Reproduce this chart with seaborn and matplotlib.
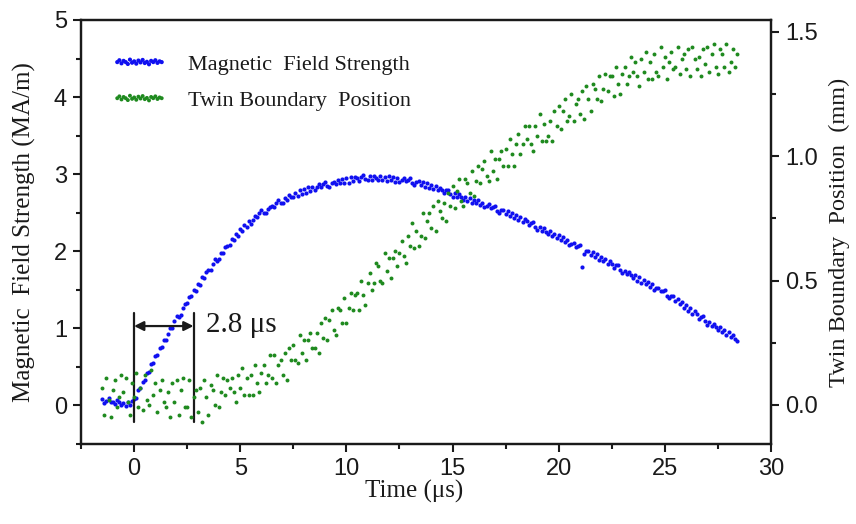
import numpy as np
import pandas as pd
import matplotlib
matplotlib.use("Agg")
import matplotlib.pyplot as plt
import seaborn as sns
from matplotlib.ticker import MultipleLocator, FixedLocator

# ---- data (time in microseconds) ----
time_us = [
    -1.5, -1.4, -1.3, -1.2, -1.1, -1.0, -0.9, -0.8, -0.7, -0.6,
    -0.5, -0.4, -0.3, -0.2, -0.1, 0.0, 0.1, 0.2, 0.3, 0.4,
    0.5, 0.6, 0.7, 0.8, 0.9, 1.0, 1.1, 1.2, 1.3, 1.4,
    1.5, 1.6, 1.7, 1.8, 1.9, 2.0, 2.1, 2.2, 2.3, 2.4,
    2.5, 2.6, 2.7, 2.8, 2.9, 3.0, 3.1, 3.2, 3.3, 3.4,
    3.5, 3.6, 3.7, 3.8, 3.9, 4.0, 4.1, 4.2, 4.3, 4.4,
    4.5, 4.6, 4.7, 4.8, 4.9, 5.0, 5.1, 5.2, 5.3, 5.4,
    5.5, 5.6, 5.7, 5.8, 5.9, 6.0, 6.1, 6.2, 6.3, 6.4,
    6.5, 6.6, 6.7, 6.8, 6.9, 7.0, 7.1, 7.2, 7.3, 7.4,
    7.5, 7.6, 7.7, 7.8, 7.9, 8.0, 8.1, 8.2, 8.3, 8.4,
    8.5, 8.6, 8.7, 8.8, 8.9, 9.0, 9.1, 9.2, 9.3, 9.4,
    9.5, 9.6, 9.7, 9.8, 9.9, 10.0, 10.1, 10.2, 10.3, 10.4,
    10.5, 10.6, 10.7, 10.8, 10.9, 11.0, 11.1, 11.2, 11.3, 11.4,
    11.5, 11.6, 11.7, 11.8, 11.9, 12.0, 12.1, 12.2, 12.3, 12.4,
    12.5, 12.6, 12.7, 12.8, 12.9, 13.0, 13.1, 13.2, 13.3, 13.4,
    13.5, 13.6, 13.7, 13.8, 13.9, 14.0, 14.1, 14.2, 14.3, 14.4,
    14.5, 14.6, 14.7, 14.8, 14.9, 15.0, 15.1, 15.2, 15.3, 15.4,
    15.5, 15.6, 15.7, 15.8, 15.9, 16.0, 16.1, 16.2, 16.3, 16.4,
    16.5, 16.6, 16.7, 16.8, 16.9, 17.0, 17.1, 17.2, 17.3, 17.4,
    17.5, 17.6, 17.7, 17.8, 17.9, 18.0, 18.1, 18.2, 18.3, 18.4,
    18.5, 18.6, 18.7, 18.8, 18.9, 19.0, 19.1, 19.2, 19.3, 19.4,
    19.5, 19.6, 19.7, 19.8, 19.9, 20.0, 20.1, 20.2, 20.3, 20.4,
    20.5, 20.6, 20.7, 20.8, 20.9, 21.0, 21.1, 21.2, 21.3, 21.4,
    21.5, 21.6, 21.7, 21.8, 21.9, 22.0, 22.1, 22.2, 22.3, 22.4,
    22.5, 22.6, 22.7, 22.8, 22.9, 23.0, 23.1, 23.2, 23.3, 23.4,
    23.5, 23.6, 23.7, 23.8, 23.9, 24.0, 24.1, 24.2, 24.3, 24.4,
    24.5, 24.6, 24.7, 24.8, 24.9, 25.0, 25.1, 25.2, 25.3, 25.4,
    25.5, 25.6, 25.7, 25.8, 25.9, 26.0, 26.1, 26.2, 26.3, 26.4,
    26.5, 26.6, 26.7, 26.8, 26.9, 27.0, 27.1, 27.2, 27.3, 27.4,
    27.5, 27.6, 27.7, 27.8, 27.9, 28.0, 28.1, 28.2, 28.3, 28.4,
]

# magnetic field strength (MA/m), left axis
field_MA_per_m = [
    0.08, 0.03, 0.06, 0.10, 0.04, 0.05, 0.02, 0.07, 0.04, 0.01,
    0.03, -0.01, 0.04, 0.01, 0.06, 0.09, 0.10, 0.20, 0.22, 0.31,
    0.33, 0.42, 0.44, 0.54, 0.55, 0.64, 0.66, 0.75, 0.76, 0.85,
    0.85, 0.93, 1.01, 1.01, 1.09, 1.16, 1.15, 1.17, 1.27, 1.32,
    1.33, 1.41, 1.42, 1.50, 1.49, 1.57, 1.56, 1.66, 1.65, 1.73,
    1.76, 1.76, 1.84, 1.90, 1.88, 1.90, 1.98, 1.98, 2.06, 2.07,
    2.08, 2.16, 2.14, 2.23, 2.20, 2.29, 2.26, 2.34, 2.31, 2.39,
    2.36, 2.41, 2.46, 2.44, 2.49, 2.53, 2.49, 2.49, 2.55, 2.58,
    2.59, 2.57, 2.63, 2.67, 2.63, 2.63, 2.69, 2.66, 2.73, 2.71,
    2.70, 2.76, 2.72, 2.79, 2.74, 2.81, 2.76, 2.83, 2.78, 2.84,
    2.79, 2.83, 2.87, 2.83, 2.87, 2.90, 2.85, 2.83, 2.89, 2.90,
    2.87, 2.93, 2.88, 2.94, 2.89, 2.95, 2.89, 2.96, 2.91, 2.96,
    2.95, 2.91, 2.96, 2.99, 2.94, 2.92, 2.97, 2.93, 2.98, 2.95,
    2.93, 2.97, 2.92, 2.96, 2.91, 2.97, 2.92, 2.96, 2.90, 2.95,
    2.90, 2.93, 2.95, 2.91, 2.93, 2.95, 2.88, 2.86, 2.90, 2.91,
    2.86, 2.90, 2.84, 2.88, 2.82, 2.86, 2.81, 2.85, 2.79, 2.82,
    2.80, 2.75, 2.79, 2.80, 2.74, 2.71, 2.75, 2.70, 2.74, 2.70,
    2.67, 2.71, 2.65, 2.69, 2.63, 2.67, 2.62, 2.66, 2.60, 2.63,
    2.57, 2.59, 2.61, 2.56, 2.58, 2.59, 2.52, 2.49, 2.53, 2.53,
    2.48, 2.52, 2.46, 2.49, 2.43, 2.47, 2.41, 2.45, 2.38, 2.42,
    2.39, 2.34, 2.37, 2.38, 2.31, 2.28, 2.32, 2.26, 2.30, 2.25,
    2.22, 2.26, 2.20, 2.23, 2.17, 2.21, 2.15, 2.18, 2.12, 2.15,
    2.08, 2.10, 2.11, 2.06, 2.07, 2.08, 1.80, 1.97, 2.01, 2.00,
    1.95, 1.99, 1.92, 1.96, 1.89, 1.93, 1.87, 1.90, 1.84, 1.87,
    1.84, 1.78, 1.82, 1.82, 1.76, 1.72, 1.75, 1.70, 1.73, 1.69,
    1.65, 1.69, 1.62, 1.66, 1.59, 1.63, 1.57, 1.60, 1.54, 1.57,
    1.50, 1.52, 1.53, 1.48, 1.49, 1.50, 1.42, 1.39, 1.42, 1.42,
    1.35, 1.38, 1.31, 1.34, 1.27, 1.30, 1.23, 1.27, 1.19, 1.22,
    1.18, 1.12, 1.15, 1.16, 1.09, 1.05, 1.08, 1.03, 1.06, 1.02,
    0.98, 1.02, 0.95, 0.98, 0.92, 0.95, 0.89, 0.92, 0.86, 0.84,
]

# twin boundary position (mm), right axis
twin_position_mm = [
    0.07, -0.04, 0.11, 0.02, -0.05, 0.06, 0.10, -0.01, 0.03, 0.12,
    0.05, 0.11, 0.01, -0.04, 0.09, 0.03, 0.13, -0.01, 0.07, -0.02,
    0.12, 0.02, 0.00, 0.14, 0.04, 0.09, -0.03, 0.06, 0.10, 0.01,
    -0.01, 0.05, -0.05, 0.09, 0.01, 0.10, -0.04, 0.06, 0.11, -0.01,
    -0.01, 0.10, -0.05, 0.03, 0.06, -0.03, 0.07, -0.07, 0.10, 0.03,
    -0.04, 0.08, 0.06, 0.00, 0.12, -0.01, 0.05, 0.11, 0.04, 0.10,
    0.07, 0.11, 0.05, 0.01, 0.12, 0.07, 0.15, 0.04, 0.11, 0.04,
    0.12, 0.04, 0.16, 0.09, 0.05, 0.13, 0.16, 0.09, 0.12, 0.20,
    0.11, 0.20, 0.09, 0.16, 0.18, 0.12, 0.21, 0.10, 0.23, 0.18,
    0.24, 0.18, 0.17, 0.28, 0.21, 0.26, 0.18, 0.26, 0.29, 0.23,
    0.23, 0.29, 0.21, 0.33, 0.27, 0.35, 0.26, 0.34, 0.38, 0.30,
    0.28, 0.39, 0.38, 0.33, 0.43, 0.33, 0.39, 0.45, 0.38, 0.44,
    0.45, 0.38, 0.50, 0.44, 0.40, 0.49, 0.53, 0.46, 0.49, 0.57,
    0.56, 0.50, 0.49, 0.61, 0.54, 0.59, 0.51, 0.59, 0.62, 0.56,
    0.61, 0.66, 0.60, 0.57, 0.68, 0.64, 0.73, 0.63, 0.70, 0.64,
    0.68, 0.77, 0.67, 0.74, 0.77, 0.71, 0.80, 0.70, 0.82, 0.78,
    0.75, 0.81, 0.74, 0.85, 0.80, 0.88, 0.79, 0.86, 0.91, 0.82,
    0.80, 0.91, 0.89, 0.85, 0.94, 0.84, 0.90, 0.96, 0.89, 0.95,
    0.98, 0.92, 0.90, 1.02, 0.94, 0.99, 0.91, 0.99, 1.02, 0.96,
    1.03, 0.96, 1.07, 1.01, 0.96, 1.05, 1.09, 1.01, 1.05, 1.12,
    1.07, 1.12, 1.05, 1.02, 1.12, 1.08, 1.17, 1.06, 1.13, 1.06,
    1.08, 1.14, 1.06, 1.18, 1.12, 1.20, 1.11, 1.18, 1.23, 1.14,
    1.16, 1.25, 1.14, 1.21, 1.23, 1.17, 1.26, 1.15, 1.28, 1.23,
    1.18, 1.29, 1.27, 1.23, 1.32, 1.22, 1.27, 1.33, 1.26, 1.32,
    1.32, 1.24, 1.36, 1.29, 1.25, 1.33, 1.36, 1.29, 1.32, 1.40,
    1.34, 1.38, 1.32, 1.28, 1.39, 1.34, 1.42, 1.31, 1.38, 1.31,
    1.41, 1.34, 1.32, 1.44, 1.36, 1.40, 1.31, 1.38, 1.42, 1.35,
    1.36, 1.44, 1.33, 1.39, 1.41, 1.35, 1.43, 1.32, 1.44, 1.39,
    1.35, 1.40, 1.32, 1.43, 1.37, 1.44, 1.34, 1.41, 1.45, 1.36,
    1.33, 1.43, 1.41, 1.36, 1.45, 1.34, 1.38, 1.43, 1.36, 1.41,
]

series_labels = ["Magnetic  Field Strength", "Twin Boundary  Position"]
x_ticks = [0, 5, 10, 15, 20, 25, 30]
left_ticks = [0, 1, 2, 3, 4, 5]
right_ticks = [0.0, 0.5, 1.0, 1.5]
right_tick_labels = ["0.0", "0.5", "1.0", "1.5"]
pulse_start_us = 0.0
rise_time_us = 2.8

# ---- style ----
sns.set_style("ticks")
plt.rcParams["font.family"] = ["Liberation Sans", "DejaVu Sans"]
SERIF = ["Liberation Serif", "DejaVu Serif"]
TXT = "#1a1a1a"
BLUE = "#1010f0"
GREEN = "#1f8a1f"

df = pd.DataFrame({"time": time_us, "field": field_MA_per_m, "twin": twin_position_mm})

fig = plt.figure(figsize=(8.56, 5.24), dpi=100)
ax = fig.add_axes([81 / 856, 1 - 444 / 524, (771 - 81) / 856, (444 - 20) / 524])
ax2 = ax.twinx()

sns.scatterplot(data=df, x="time", y="field", ax=ax, color=BLUE, s=9,
                linewidth=0, label=series_labels[0], legend=False)
sns.scatterplot(data=df, x="time", y="twin", ax=ax2, color=GREEN, s=8,
                linewidth=0, label=series_labels[1], legend=False)

ax.set_xlim(-2.5, 30)
ax.set_ylim(-0.5, 5)
ax2.set_ylim(-0.157, 1.547)

ax.xaxis.set_major_locator(FixedLocator(x_ticks))
ax.xaxis.set_minor_locator(MultipleLocator(2.5))
ax.yaxis.set_major_locator(FixedLocator(left_ticks))
ax.yaxis.set_minor_locator(MultipleLocator(0.5))
ax2.yaxis.set_major_locator(FixedLocator(right_ticks))
ax2.set_yticklabels(right_tick_labels)
ax2.yaxis.set_minor_locator(MultipleLocator(0.25))

for a in (ax, ax2):
    for sp in a.spines.values():
        sp.set_linewidth(1.6)
        sp.set_color(TXT)
        sp.set_visible(True)
    a.tick_params(which="major", direction="out", length=6, width=1.5,
                  labelsize=17, colors=TXT, pad=4)
    a.tick_params(which="minor", direction="out", length=3.5, width=1.5, colors=TXT)
ax.tick_params(axis="y", which="both", right=False)
ax.tick_params(axis="x", which="both", top=False)
ax2.tick_params(axis="y", which="both", left=False, right=True)

ax.set_xlabel("Time (μs)", fontsize=18, family=SERIF, color=TXT)
ax.xaxis.set_label_coords(0.483, -0.085)
ax.set_ylabel("Magnetic  Field Strength (MA/m)", fontsize=18, family=SERIF,
              color=TXT, labelpad=13)
ax2.set_ylabel("Twin Boundary  Position  (mm)", fontsize=17.5, family=SERIF,
               color=TXT, labelpad=8)

# rise-time annotation
for xv in (pulse_start_us, rise_time_us):
    ax.plot([xv, xv], [-0.22, 1.2], color=TXT, lw=1.6, zorder=5)
ax.annotate("", xy=(pulse_start_us, 1.03), xytext=(rise_time_us, 1.03),
            arrowprops=dict(arrowstyle="<|-|>", color=TXT, lw=1.6,
                            mutation_scale=14, shrinkA=0, shrinkB=0), zorder=5)
ax.text(rise_time_us + 0.6, 1.04, f"{rise_time_us} μs", fontsize=21,
        family=SERIF, color=TXT, va="center", ha="left")

# legend
handles = [ax.collections[0], ax2.collections[0]]
leg = ax2.legend(handles, series_labels, loc="upper left",
                 bbox_to_anchor=(0.03, 0.94), frameon=False,
                 scatterpoints=22,
                 scatteryoffsets=[0.5, 0.62, 0.42, 0.58, 0.5, 0.38, 0.66, 0.46,
                                  0.55, 0.4, 0.6, 0.48, 0.64, 0.44, 0.52, 0.36,
                                  0.58, 0.5, 0.62, 0.45, 0.55, 0.5],
                 handlelength=2.6, handletextpad=0.9, labelspacing=0.7,
                 borderaxespad=0, prop={"family": SERIF, "size": 16})
for t in leg.get_texts():
    t.set_color(TXT)

fig.savefig("out.png", dpi=100)
